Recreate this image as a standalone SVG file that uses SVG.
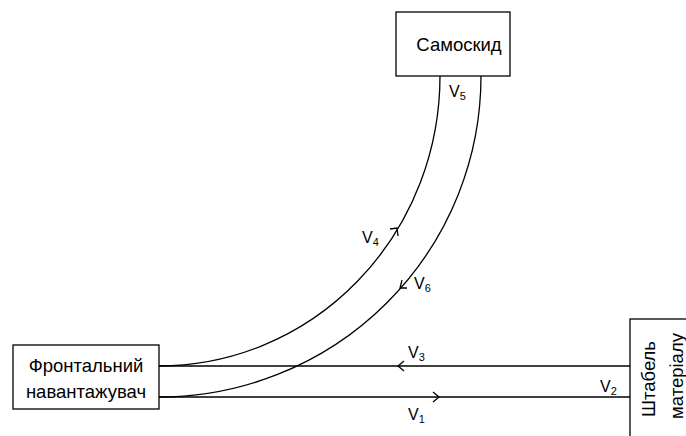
<svg xmlns="http://www.w3.org/2000/svg" width="686" height="436" viewBox="0 0 686 436">
<style>
.box{fill:#fff;stroke:#000;stroke-width:1.3}
.ln{fill:none;stroke:#000;stroke-width:1.3}
.t{font-family:"Liberation Sans",Arial,sans-serif;font-size:18.5px;fill:#000}
.v{font-family:"Liberation Sans",Arial,sans-serif;font-size:16px;fill:#000}
.s{font-size:11px}
</style>
<rect width="686" height="436" fill="#fff"/>
<g id="connectors">
<path class="ln" d="M440,76 A281,290 0 0 1 159,366"/>
<path class="ln" d="M481,76 A322,321 0 0 1 159,397"/>
<line class="ln" x1="159" y1="366" x2="630" y2="366"/>
<line class="ln" x1="159" y1="397" x2="630" y2="397"/>
<polyline class="ln" points="404,361 398,366 404,371"/>
<polyline class="ln" points="433,392 439,397 433,402"/>
<polyline class="ln" points="390,229 397,228 398,236"/>
<polyline class="ln" points="407,288 400,288 402,280"/>
<text class="v" x="408" y="358">V<tspan class="s" dy="3">3</tspan></text>
<text class="v" x="408" y="420">V<tspan class="s" dy="3">1</tspan></text>
<text class="v" x="600" y="392">V<tspan class="s" dy="3">2</tspan></text>
<text class="v" x="362" y="243">V<tspan class="s" dy="3">4</tspan></text>
<text class="v" x="414" y="289">V<tspan class="s" dy="3">6</tspan></text>
<text class="v" x="449" y="97">V<tspan class="s" dy="3">5</tspan></text>
</g>
<g id="samoskyd">
<rect class="box" x="396" y="12" width="114" height="64"/>
<text class="t" x="459" y="51" text-anchor="middle">Самоскид</text>
</g>
<g id="loader">
<rect class="box" x="13" y="345" width="146" height="64"/>
<text class="t" x="86" y="372" text-anchor="middle">Фронтальний</text>
<text class="t" x="86" y="398" text-anchor="middle">навантажувач</text>
</g>
<g id="stack">
<rect class="box" x="630" y="319" width="80" height="140"/>
<text class="t" transform="translate(655,379) rotate(-90)" text-anchor="middle">Штабель</text>
<text class="t" transform="translate(683,376) rotate(-90)" text-anchor="middle">матеріалу</text>
</g>
</svg>
